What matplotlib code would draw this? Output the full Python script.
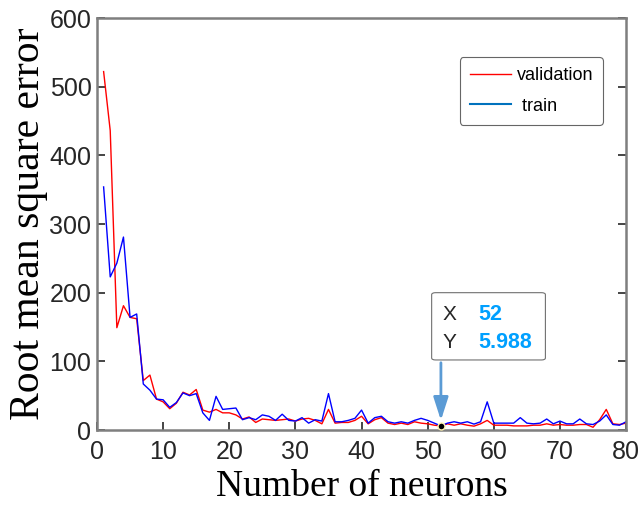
import matplotlib
matplotlib.use("Agg")
import matplotlib.pyplot as plt
import numpy as np

neurons = list(range(1, 81))
validation = [522, 436, 149, 181, 164, 162, 72, 80, 45, 41,
              31, 39, 55, 51, 59, 29, 26, 30, 25, 25,
              22, 16, 19, 11, 16, 15, 14, 15, 16, 13,
              16, 17, 14, 9, 30, 10, 11, 11, 14, 20,
              9, 15, 18, 10, 8, 10, 8, 12, 10, 9,
              7, 5.988, 9, 7, 9, 7, 5.6, 9, 14, 7,
              7, 7, 6, 6, 6, 7, 7, 9, 7, 8,
              7, 7, 8, 8, 4, 15, 30, 9, 8, 10]
train = [354, 223, 243, 281, 164, 169, 67, 58, 45, 44,
         33, 40, 54, 50, 53, 25, 14, 49, 30, 31,
         32, 15, 18, 15, 22, 20, 14, 23, 14, 13,
         18, 10, 15, 13, 53, 12, 12, 14, 17, 29,
         10, 18, 20, 12, 10, 12, 10, 14, 17, 14,
         10, 6, 10, 12, 10, 12, 8.6, 12, 41, 10,
         10, 10, 10, 18, 10, 9, 10, 16, 9, 13,
         9, 9, 16, 9, 8, 13, 22, 8, 7, 12]
tip_x, tip_y = 52, 5.988
x_ticks = [0, 10, 20, 30, 40, 50, 60, 70, 80]
y_ticks = [0, 100, 200, 300, 400, 500, 600]

fig = plt.figure(figsize=(6.39, 5.09), dpi=100)
ax = fig.add_axes([0.1518, 0.1552, 0.828, 0.8094])

ax.plot(neurons, validation, color="#FF0000", lw=1.0, label="validation")
ax.plot(neurons, train, color="#0000FF", lw=1.0)
ax.plot([], [], color="#0072BD", lw=1.5, label=" train")

ax.set_xlim(0, 80)
ax.set_ylim(0, 600)
ax.set_xticks(x_ticks)
ax.set_yticks(y_ticks)
for s in ax.spines.values():
    s.set_color("#7f7f7f")
    s.set_linewidth(1.8)
ax.tick_params(direction="in", length=6, width=1.2, color="#262626",
               labelsize=18, labelcolor="#262626", top=False, right=True)
ax.tick_params(axis="x", pad=7)
ax.tick_params(axis="y", pad=4)
for lab in ax.get_xticklabels() + ax.get_yticklabels():
    lab.set_fontfamily("Liberation Sans")

ax.set_xlabel("Number of neurons", fontfamily="Liberation Serif", fontsize=27,
              labelpad=4)
ax.set_ylabel("Root mean square error", fontfamily="Liberation Serif",
              fontsize=30, labelpad=1)

# legend
h, l = ax.get_legend_handles_labels()
leg = ax.legend(h, l, loc="upper right", bbox_to_anchor=(0.9565, 0.905),
                borderaxespad=0,
                prop={"family": "Liberation Sans", "size": 13},
                frameon=True, fancybox=True, edgecolor="#404040",
                handlelength=2.3, labelspacing=0.75, borderpad=0.55,
                handletextpad=0.3)
leg.get_frame().set_linewidth(0.8)

# data tip
ax.plot([tip_x], [tip_y], marker="o", ms=5, mfc="black", mec="#FFF2B0",
        mew=1.0, zorder=5)
ax.annotate("", xy=(tip_x, tip_y + 4), xytext=(tip_x, 102),
            arrowprops=dict(arrowstyle="-|>,head_width=0.45,head_length=1.4",
                            color="#5B9BD5", lw=2.0))
box = matplotlib.patches.FancyBboxPatch((50.6, 102), 17.2, 98,
                                        boxstyle="round,pad=0,rounding_size=0.6",
                                        transform=ax.transData, fc="white",
                                        ec="#707070", lw=0.8, zorder=6,
                                        mutation_aspect=5)
ax.add_patch(box)
ax.text(52.3, 168, "X", fontfamily="Liberation Sans", fontsize=15,
        color="#262626", va="center", zorder=7)
ax.text(52.3, 128, "Y", fontfamily="Liberation Sans", fontsize=15,
        color="#262626", va="center", zorder=7)
ax.text(57.6, 168, "52", fontfamily="Liberation Sans", fontsize=15.5,
        fontweight="bold", color="#00A0FF", va="center", zorder=7)
ax.text(57.6, 128, "5.988", fontfamily="Liberation Sans", fontsize=15.5,
        fontweight="bold", color="#00A0FF", va="center", zorder=7)

fig.savefig("out.png", dpi=100)
